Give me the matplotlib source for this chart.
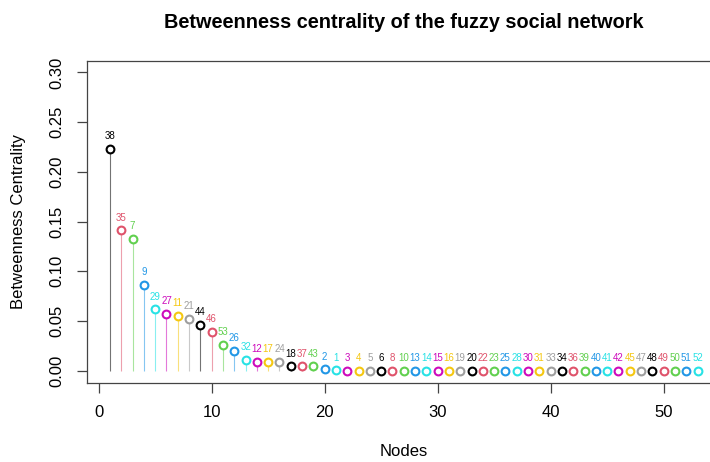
import matplotlib
matplotlib.use("Agg")
import matplotlib.pyplot as plt
import numpy as np

plt.rcParams['font.family'] = ['Liberation Sans', 'DejaVu Sans']

# Node labels in plotted order (sorted by centrality)
node_labels = [38, 35, 7, 9, 29, 27, 11, 21, 44, 46, 53, 26, 32, 12, 17, 24, 18, 37, 43, 2,
               1, 3, 4, 5, 6, 8, 10, 13, 14, 15, 16, 19, 20, 22, 23, 25, 28, 30, 31, 33,
               34, 36, 39, 40, 41, 42, 45, 47, 48, 49, 50, 51, 52]
centrality = [0.2228, 0.1412, 0.1322, 0.0861, 0.0617, 0.0569, 0.0552, 0.0522, 0.0461, 0.0391,
              0.0260, 0.0196, 0.0109, 0.0089, 0.0088, 0.0087, 0.0043, 0.0042, 0.0041, 0.0012,
              0.0002, 0, 0, 0, 0, 0, 0, 0, 0, 0, 0, 0, 0, 0, 0, 0, 0, 0, 0, 0,
              0, 0, 0, 0, 0, 0, 0, 0, 0, 0, 0, 0, 0]
palette = ["black", "#DF536B", "#61D04F", "#2297E6", "#28E2E5", "#CD0BBC", "#F5C710", "#9E9E9E"]
x_ticks = [0, 10, 20, 30, 40, 50]
y_ticks = [0.00, 0.05, 0.10, 0.15, 0.20, 0.25, 0.30]

W, H = 710, 462
fig = plt.figure(figsize=(W / 100, H / 100), dpi=100)
left, right, top, bottom = 86.5, 721, 60.5, 382.5
ax = fig.add_axes([left / W, 1 - bottom / H, (right - left) / W, (bottom - top) / H])

x = np.arange(1, len(centrality) + 1)
cols = [palette[i % len(palette)] for i in range(len(x))]

for xi, yi, c, lab in zip(x, centrality, cols, node_labels):
    ax.vlines(xi, 0, yi, color=c, lw=0.8, alpha=0.55, zorder=1)
    ax.plot([xi], [yi], 'o', ms=5.6, mfc='white', mec=c, mew=1.5, zorder=3)
    ax.annotate(str(lab), (xi, yi), xytext=(0, 7), textcoords='offset points',
                ha='center', va='baseline', fontsize=7, color=c)

ax.set_xlim(1 - 0.04 * 52, 53 + 0.04 * 52)
ax.set_ylim(-0.012, 0.312)
ax.set_xticks(x_ticks)
ax.set_xticklabels([str(t) for t in x_ticks], fontsize=12)
ax.set_yticks(y_ticks)
ax.set_yticklabels([f"{t:.2f}" for t in y_ticks], fontsize=12, rotation=90, va='center')
ax.tick_params(axis='both', direction='out', length=7, width=0.9, color='#444444', pad=9)

for s in ax.spines.values():
    s.set_color('#444444')
    s.set_linewidth(0.9)

ax.set_xlabel("Nodes", fontsize=12)
ax.xaxis.set_label_coords(0.5, (bottom - 452) / (bottom - top))
ax.xaxis.label.set_va('center')
ax.set_ylabel("Betweenness Centrality", fontsize=12)
ax.yaxis.set_label_coords((19 - left) / (right - left), 0.5)
ax.yaxis.label.set_va('center')

fig.text(403.5 / W, 1 - 28.3 / H, "Betweenness centrality of the fuzzy social network",
         ha='center', va='baseline', fontsize=14.3, fontweight='bold')

fig.savefig("out.png", dpi=100)
